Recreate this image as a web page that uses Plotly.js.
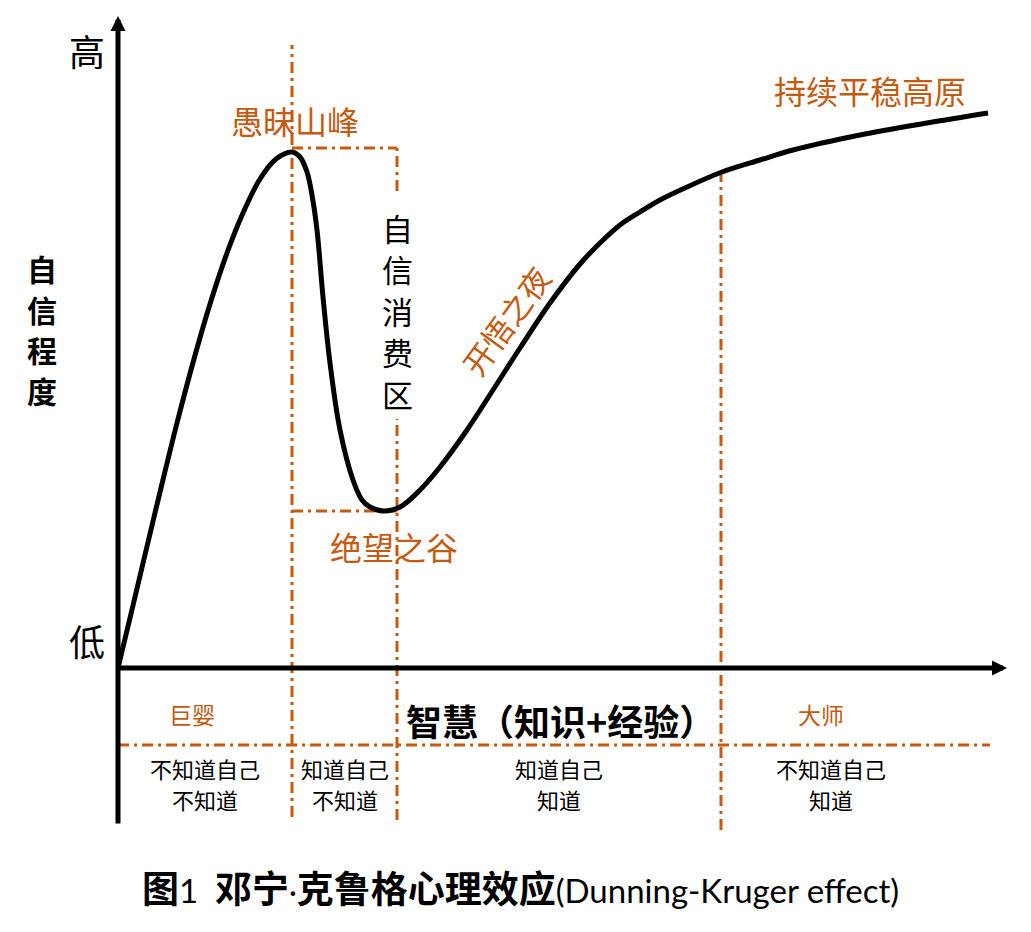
<!DOCTYPE html>
<html>
<head>
<meta charset="utf-8">
<script src="https://cdn.plot.ly/plotly-3.0.1.min.js"></script>
<style>
  html, body { margin: 0; padding: 0; background: #fff; }
</style>
</head>
<body>
<div id="plot"></div>
<script>
// curve: wisdom (x) vs confidence (y), arbitrary units
const wisdom = [
  0, 1.2, 2.6, 4.3, 5.9, 7.6, 9.2, 10.9, 12.5, 14.2, 15.8, 17.4,
  18.2, 18.9, 19.4, 19.9, 20.5, 21.2, 22.2, 23.5, 24.4, 25.2, 26.5,
  28.2, 30.2, 32.2, 34.9, 37.5, 40.2, 43.2, 46.2, 48.2, 50.2, 52.2,
  54.2, 56.9, 60.4, 64.2, 67.5, 74.2, 80.9, 87.0
];
const confidence = [
  0, 5.0, 10.9, 18.0, 24.5, 30.9, 36.4, 41.5, 45.5, 48.9, 50.9, 51.6,
  51.1, 49.6, 47.3, 43.8, 37.1, 30.5, 23.8, 18.8, 16.8, 16.1, 15.7,
  16.1, 17.8, 20.1, 23.8, 27.8, 32.0, 36.5, 40.4, 42.5, 44.3, 45.6,
  46.8, 48.1, 49.6, 50.8, 51.8, 53.3, 54.5, 55.5
];

// zone boundaries along the wisdom axis (peak, end of consumption zone, master)
const zoneEdges = [0, 17.4, 27.9, 60.3, 82.3];
const zoneLine1 = ['不知道自己', '知道自己', '知道自己', '不知道自己'];
const zoneLine2 = ['不知道', '不知道', '知道', '知道'];
const stageLabels = ['愚昧山峰', '绝望之谷', '开悟之夜', '持续平稳高原'];
const yAxisTitle = '自信程度';
const xAxisTitle = '智慧（知识+经验）';
const zoneTitle = '自信消费区';

const orange = '#C55A11';
const dashStyle = '11px,5px,3px,5px';

// peak and valley straight from the data
let iPeak = 0;
for (let i = 0; i < confidence.length; i++) {
  if (wisdom[i] < 30 && confidence[i] > confidence[iPeak]) iPeak = i;
}
let iValley = iPeak;
for (let i = iPeak; i < confidence.length; i++) {
  if (wisdom[i] < 40 && confidence[i] < confidence[iValley]) iValley = i;
}
const peakX = wisdom[iPeak], peakY = confidence[iPeak];
const valleyY = confidence[iValley];

function curveAt(x) {
  for (let i = 1; i < wisdom.length; i++) {
    if (wisdom[i] >= x && wisdom[i - 1] <= x) {
      const t = (x - wisdom[i - 1]) / (wisdom[i] - wisdom[i - 1]);
      return confidence[i - 1] + t * (confidence[i] - confidence[i - 1]);
    }
  }
  return 0;
}

function dashLine(x0, y0, x1, y1) {
  return {
    type: 'line', xref: 'x', yref: 'y', x0: x0, y0: y0, x1: x1, y1: y1,
    line: { color: orange, width: 3, dash: dashStyle }, layer: 'below'
  };
}

// vertical zone title sits in a gap of the dashed line
const zoneTitleTop = 44.1, zoneTitleStep = 4.15;
const gapTop = zoneTitleTop + 3.6;
const gapBottom = zoneTitleTop - zoneTitleStep * (Array.from(zoneTitle).length - 1) - 2.6;

const shapes = [
  dashLine(peakX, -14.9, peakX, 62.3),
  dashLine(peakX, peakY + 0.4, zoneEdges[2], peakY + 0.4),
  dashLine(zoneEdges[2], gapTop, zoneEdges[2], peakY + 0.4),
  dashLine(zoneEdges[2], -15.2, zoneEdges[2], gapBottom),
  dashLine(peakX, valleyY, zoneEdges[2], valleyY),
  dashLine(zoneEdges[3], -16.2, zoneEdges[3], curveAt(zoneEdges[3])),
  dashLine(0, -7.7, 87.2, -7.7)
];

function arrow(x, y, ax, ay) {
  return {
    x: x, y: y, ax: ax, ay: ay, xref: 'x', yref: 'y', axref: 'x', ayref: 'y',
    text: '', showarrow: true, arrowhead: 2, arrowsize: 0.6, arrowwidth: 5,
    arrowcolor: '#000', standoff: 0, startstandoff: 0
  };
}

function label(text, x, y, size, color, extra) {
  return Object.assign({
    x: x, y: y, xref: 'x', yref: 'y', text: text, showarrow: false,
    xanchor: 'center', yanchor: 'middle', borderpad: 0,
    font: { size: size, color: color, family: 'Noto Sans CJK SC' }
  }, extra || {});
}

const annotations = [
  arrow(0, 65.2, 0, -15.7),
  arrow(88.9, 0, 0, 0),
  label('高', -3.1, 61.8, 36, '#000'),
  label('低', -3.1, 2.8, 36, '#000'),
  label(stageLabels[0], 17.7, 54.8, 32, orange),
  label(stageLabels[1], 27.6, 12.2, 32, orange),
  label(stageLabels[2], 38.7, 34.8, 31, orange, { textangle: -54 }),
  label(stageLabels[3], 75.2, 57.8, 32, orange),
  label('巨婴', 7.4, -4.6, 23, orange),
  label('大师', 70.3, -4.6, 23, orange),
  label('<b>' + xAxisTitle + '</b>', 44.2, -5.2, 36, '#000'),
  label('<b>图</b><span style="font-family:Lato;font-size:33px">1 </span> <b>邓宁</b>' +
        '<span style="font-family:Lato;font-size:30px">·</span><b>克鲁格心理效应</b>' +
        '<span style="font-family:Lato;font-size:33px">(Dunning-Kruger effect)</span>',
        40.2, -21.9, 37, '#000')
];

// vertical y title, one character per line
Array.from(yAxisTitle).forEach(function (c, i) {
  annotations.push(label('<b>' + c + '</b>', -7.6, 40.0 - i * 4.05, 30, '#000'));
});

// vertical zone title between peak and valley
Array.from(zoneTitle).forEach(function (c, i) {
  annotations.push(label(c, zoneEdges[2], zoneTitleTop - i * zoneTitleStep, 31, '#000'));
});

// knowledge quadrant labels under each zone, two lines each
zoneLine1.forEach(function (t, i) {
  const mid = (zoneEdges[i] + zoneEdges[i + 1]) / 2;
  annotations.push(label(t, mid, -10.0, 22, '#000'));
  annotations.push(label(zoneLine2[i], mid, -13.1, 22, '#000'));
});

const curve = {
  x: wisdom,
  y: confidence,
  mode: 'lines',
  type: 'scatter',
  line: { color: '#000', width: 5, shape: 'spline', smoothing: 1 },
  hoverinfo: 'skip'
};

const layout = {
  width: 1031,
  height: 932,
  margin: { l: 0, r: 0, t: 0, b: 0 },
  paper_bgcolor: '#fff',
  plot_bgcolor: '#fff',
  showlegend: false,
  font: { family: 'Noto Sans CJK SC', color: '#000' },
  xaxis: { range: [-11.8, 91.3], visible: false, fixedrange: true },
  yaxis: { range: [-26.4, 66.8], visible: false, fixedrange: true },
  shapes: shapes,
  annotations: annotations
};

Plotly.newPlot('plot', [curve], layout, { displayModeBar: false, staticPlot: true });
</script>
</body>
</html>
